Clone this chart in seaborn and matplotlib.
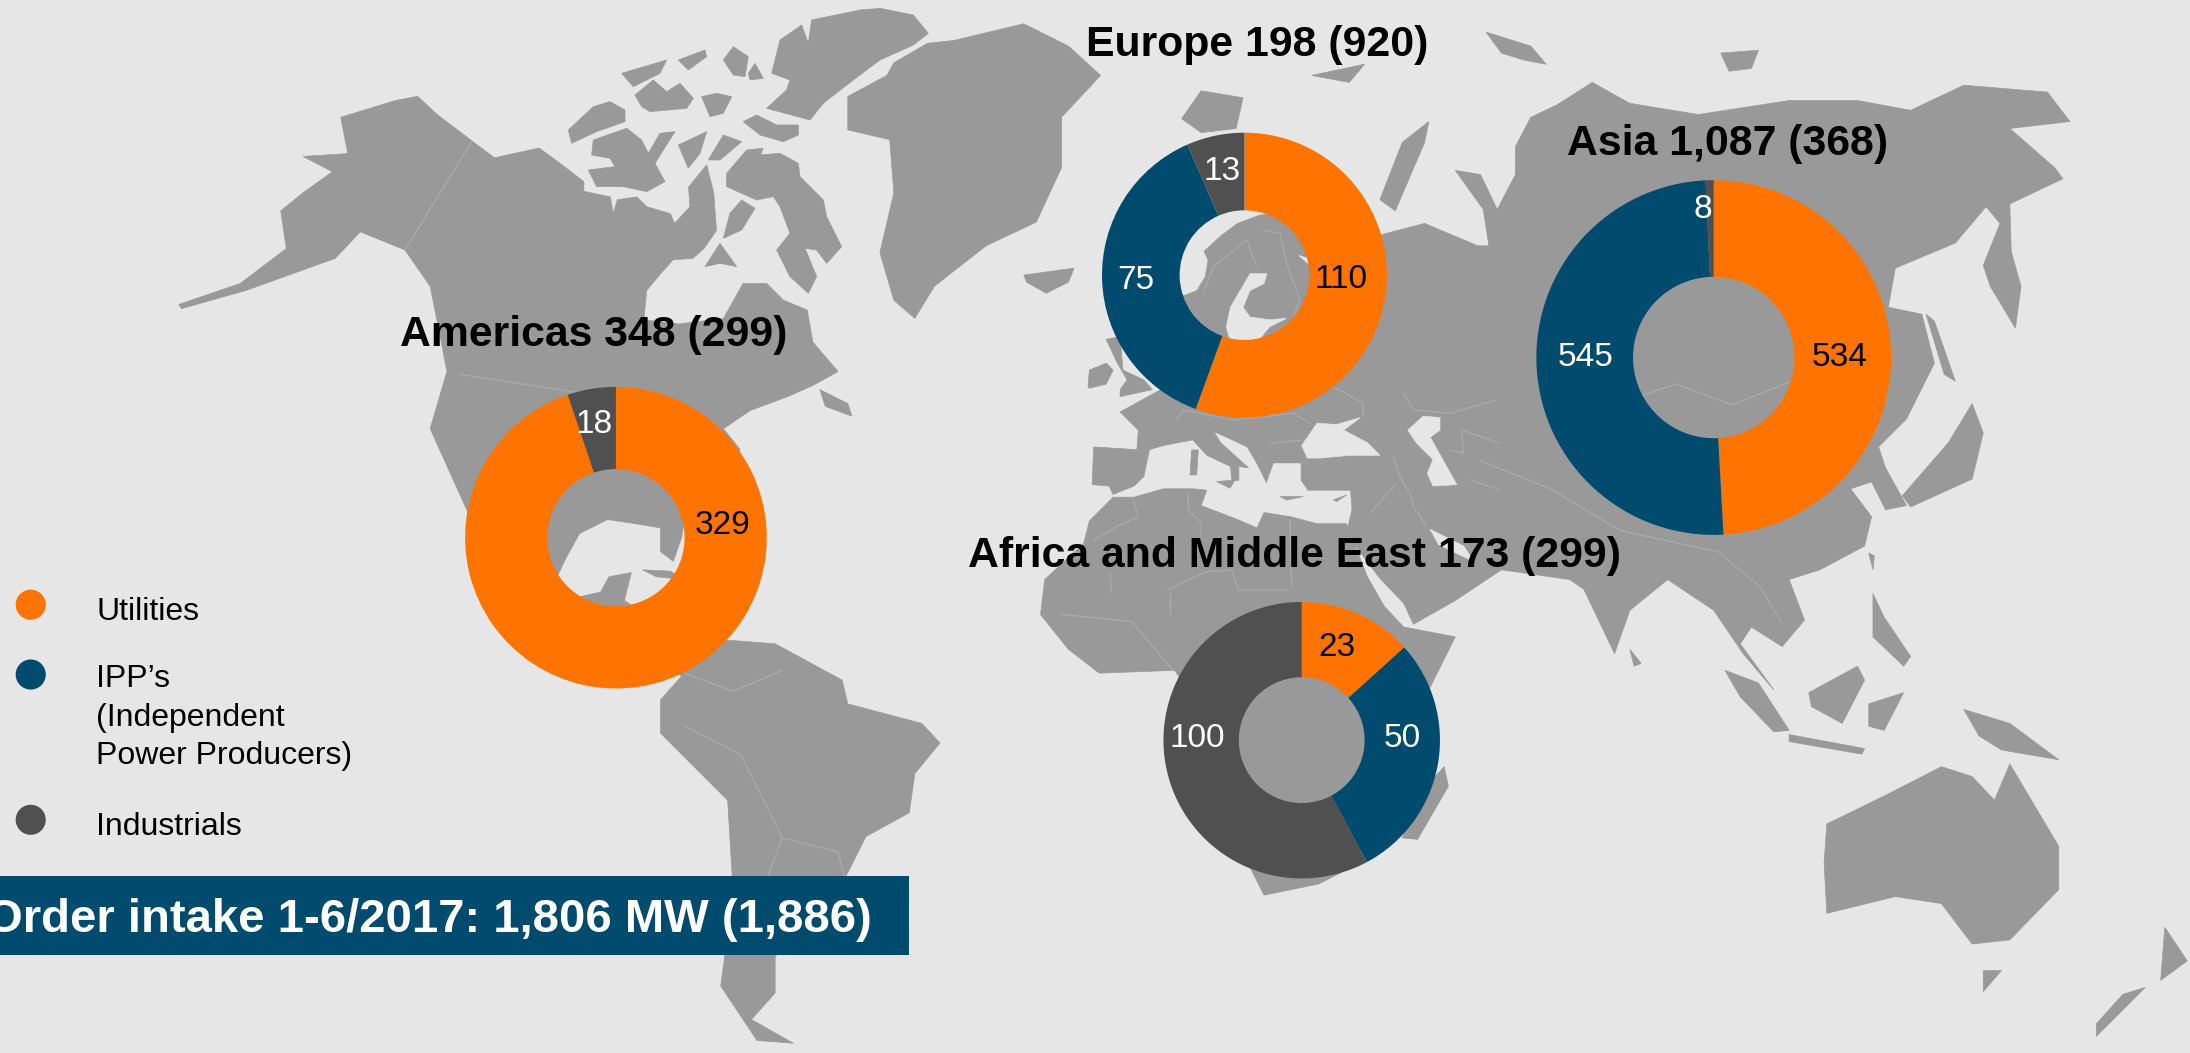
import matplotlib
matplotlib.use("Agg")
import matplotlib.pyplot as plt
from matplotlib.patches import Polygon, Rectangle
import seaborn as sns

# Order intake per region (MW)
segments = ["Utilities", "IPP's", "Industrials"]
americas = [329, 0, 18]
europe = [110, 75, 13]
asia = [534, 545, 8]
africa = [23, 50, 100]

titles = ["Americas 348 (299)", "Europe 198 (920)", "Asia 1,087 (368)", "Africa and Middle East 173 (299)"]
banner_text = "Order intake 1-6/2017: 1,806 MW (1,886)"

ORANGE = "#FF7300"
BLUE = "#004B6E"
DARK = "#505050"
LAND = "#999999"
BG = "#E6E6E6"
BORDER = "#ABABAB"
palette = [ORANGE, BLUE, DARK]


# outlines traced on 3x crops of the map, back to picture coordinates
def crop(x0, y0, pts):
    return [((x0 + x / 3) / 1.3967, (y0 + y / 3) / 1.3967) for x, y in pts]


def arctic(pts):
    return crop(560, 0, pts)


def med(pts):
    return crop(1050, 380, pts)


# Background map outlines, in picture coordinates
land = [
    # north america
    [(244,84),(283,72),(299,69),(313,82),(338,101),(354,113),(386,106),(401,117),(418,130),(418,137),(437,141),(439,153),(442,143),
     (456,141),(463,148),(480,153),(483,160),(494,148),(493,134),(506,118),(511,138),(513,165),(504,178),(496,185),(482,186),
     (473,196),(463,208),(461,229),(486,232),(518,228),(532,203),(549,203),(561,215),(578,222),(582,245),
     (600,266),(582,276),(564,284),(537,294),(518,307),(530,322),(505,345),(491,366),(488,385),(482,402),(473,395),(473,378),
     (455,375),(435,372),(415,382),(405,400),(398,415),(412,428),(430,424),(436,413),(452,410),(447,430),(470,445),(500,465),
     (516,458),(500,490),(440,460),(390,430),(350,400),
     (331,358),(308,307),(320,266),(313,230),(308,205),(290,179),(258,166),(240,185),(190,203),(176,208),(130,221),(128,218),
     (172,203),(205,178),(201,151),(217,138),(238,123),(217,112),(249,110)],
    # south america
    [(516,458),(555,461),(603,487),(607,504),(660,518),(673,532),(655,554),(651,582),(620,599),(607,625),(590,650),(555,685),
     (555,711),(538,730),(568,747),(542,745),(516,706),(525,640),(521,573),(473,525),(473,501),(490,482)],
    # canadian arctic
    arctic([(25,390),(100,320),(150,305),(195,330),(195,365),(110,395),(35,430)]),
    arctic([(100,420),(200,385),(245,420),(265,460),(300,400),(345,395),(310,450),(285,490),(315,545),(260,575),(190,560),
            (110,560),(85,510),(165,500),(150,475),(95,465)]),
    arctic([(185,220),(320,180),(300,220),(220,260)]),
    arctic([(225,285),(280,240),(320,275),(360,250),(400,295),(380,325),(270,335),(245,320)]),
    arctic([(355,180),(435,150),(440,170),(385,210)]),
    arctic([(490,180),(520,140),(565,170),(555,230),(520,225)]),
    arctic([(565,220),(585,190),(610,235),(570,240)]),
    arctic([(425,290),(470,280),(515,290),(490,340),(450,350)]),
    arctic([(550,365),(590,345),(650,375),(715,375),(715,405),(670,425),(600,405)]),
    arctic([(635,220),(660,120),(725,75),(745,130),(755,60),(900,30),(960,25),(1060,45),(1105,100),(1060,135),(960,180),
            (880,240),(790,310),(750,360),(620,325),(680,270),(690,240)]),
    arctic([(355,435),(440,395),(420,460),(385,505)]),
    arctic([(445,480),(490,405),(545,425),(480,480)]),
    arctic([(500,520),(560,450),(610,445),(570,530),(600,465),(660,460),(715,490),(720,530),(790,600),(800,650),(845,740),
            (800,790),(770,750),(735,745),(770,830),(745,880),(690,830),(650,750),(690,700),(660,620),(640,590),(590,600),(500,560)]),
    arctic([(435,800),(480,730),(530,800),(480,790)]),
    arctic([(510,640),(545,600),(585,625),(545,690),(490,715)]),
    [(587,279),(607,289),(610,298),(591,291)],
    # greenland, iceland
    [(607,69),(635,54),(640,45),(664,31),(683,29),(733,17),(765,33),(788,54),(760,84),(760,120),(742,159),(706,176),(669,205),
     (655,228),(640,215),(630,181),(640,138),(637,100),(607,93)],
    [(733,197),(769,192),(765,202),(749,210),(735,202)],
    # eurasia
    [(831,279),(847,212),(857,208),(863,198),(865,186),(862,180),(874,169),(886,160),(902,154),(917,153),(926,162),(965,175),
     (993,167),(1020,160),(1058,176),(1066,176),(1062,150),(1042,122),(1060,125),(1072,150),(1085,125),(1085,105),(1096,84),
     (1115,75),(1140,59),(1167,74),(1216,82),(1281,72),(1330,72),(1368,79),(1406,61),(1466,66),(1482,87),(1439,92),(1471,120),
     (1477,128),(1439,146),(1440,180),(1447,205),(1443,235),(1425,205),(1420,190),(1432,160),(1422,148),(1400,174),(1357,192),
     (1352,220),(1376,225),(1385,260),(1365,300),(1345,320),(1350,335),(1365,362),(1350,365),(1340,345),(1325,350),(1340,370),
     (1335,391),(1303,408),(1281,415),(1292,444),(1276,463),(1254,449),(1246,461),(1270,494),(1248,468),(1227,437),(1194,415),
     (1167,437),(1156,468),(1134,422),(1124,415),(1075,408),(1042,430),(1012,447),(1005,432),(987,413),(964,382),(968,365),
     (967,351),(936,351),(928,346),(907,346),(900,332),(893,320),(878,313),(869,309),(874,317),(885,327),(894,335),(887,334),
     (887,344),(882,344),(881,334),(864,326),(854,315),(833,319),(823,322),(819,341),(812,348),(797,354),(794,348),(782,347),
     (783,320),(814,322),(815,308),(802,295)],
    # africa, madagascar
    [(797,356),(812,356),(833,350),(854,350),(864,351),(860,362),(886,372),(900,378),(905,367),(924,370),(943,375),(964,375),
     (979,413),(991,434),(1005,449),(1042,456),(1025,490),(1005,530),(1000,570),(985,590),(960,625),(944,633),(905,641),(895,621),
     (880,580),(860,530),(855,500),(841,480),(787,482),(765,465),(745,440),(748,415),(776,389),(780,373)],
    [(1034,549),(1037,563),(1015,601),(1004,600),(1015,570)],
    # australia, tasmania, new zealand
    [(1308,590),(1349,570),(1390,549),(1412,556),(1428,573),(1439,547),(1474,606),(1474,637),(1439,673),(1412,676),(1390,647),
     (1357,642),(1308,654),(1306,618)],
    [(1420,695),(1433,695),(1420,710)],
    [(1550,664),(1566,688),(1547,702)],
    [(1536,707),(1501,742),(1501,733),(1520,712)],
    # south east asia
    [(1406,508),(1439,518),(1474,544),(1433,537),(1417,527)],
    [(1295,496),(1330,477),(1335,487),(1319,518),(1297,506)],
    [(1235,480),(1259,489),(1281,523),(1270,524),(1246,499)],
    [(1281,526),(1335,536),(1333,540),(1281,531)],
    [(1338,504),(1363,496),(1349,523),(1338,520)],
    [(1341,425),(1349,442),(1368,470),(1363,477),(1341,456)],
    [(1338,396),(1342,398),(1341,408)],
    [(1167,465),(1175,475),(1170,477)],
    # british isles, arctic russia, japan, sakhalin, cuba
    [(779,277),(780,265),(792,260),(797,265),(792,275),(780,278)],
    [(792,243),(802,241),(804,265),(819,272),(825,279),(802,284),(802,279),(807,272),(800,260)],
    [(846,85),(860,65),(890,70),(885,92),(860,95)],
    [(1064,23),(1096,33),(1107,46),(1091,43),(1075,38)],
    [(1232,38),(1259,36),(1254,49),(1238,51)],
    [(939,54),(977,46),(966,59)],
    [(988,143),(1004,102),(1023,87),(1020,102),(999,151)],
    [(1412,289),(1420,310),(1412,343),(1368,363),(1362,355),(1395,317)],
    [(1379,225),(1385,230),(1400,273),(1392,268)],
    [(460,408),(480,409),(490,415),(470,413)],
    # mediterranean islands
    med([(425,210),(445,210),(440,285),(420,285)]),
    med([(500,305),(555,300),(540,325)]),
    med([(850,360),(890,345),(860,365)]),
    med([(690,350),(760,350),(710,360)]),
]
seas = [
    # black sea, caspian, aegean
    [(932,319),(943,303),(957,304),(974,299),(962,308),(979,317),(988,326),(967,326),(945,328),(936,328)],
    [(1008,308),(1019,298),(1031,299),(1031,308),(1024,313),(1043,347),(1026,348),(1022,339),(1026,329),(1014,317)],
    [(912,332),(931,332),(931,344),(936,351),(917,351),(907,346)],
    # baltic, white sea, persian gulf
    [(895,196),(907,196),(905,203),(895,208),(890,220),(895,227),(909,229),(921,228),(909,234),(900,245),(881,245),(878,234),
     (881,220),(888,208)],
    [(930,183),(940,186),(945,195),(938,190)],
    [(1024,379),(1048,391),(1055,402),(1030,390)],
]
borders = [
    [(338,101),(290,179)],
    [(329,268),(420,282)],
    [(490,482),(525,495),(560,480)],
    [(490,520),(530,540),(560,600),(545,640)],
    [(560,600),(600,610),(605,630)],
    [(1170,285),(1200,275),(1240,290),(1290,270)],
    [(1230,395),(1260,420),(1275,445)],
    [(1060,330),(1110,350),(1160,380),(1230,395)],
    [(760,440),(810,445),(840,480)],
    med([(415,340),(415,390),(455,430),(450,470)]),
    med([(250,360),(265,410),(200,440),(130,480)]),
    med([(720,420),(725,620)]),
    med([(180,580),(185,640)]),
    med([(350,630),(470,575),(545,570),(565,630),(715,630)]),
    med([(360,640),(360,700)]),
    med([(1030,230),(1050,290),(1080,340),(1090,380),(1130,440)]),
    med([(1040,310),(960,400)]),
    med([(1200,210),(1240,220),(1235,150),(1350,190)]),
    med([(1260,300),(1350,330)]),
    med([(380,120),(400,90),(550,120),(640,110),(730,100),(780,130)]),
    med([(850,20),(940,70),(940,110)]),
    med([(660,190),(760,180)]),
    med([(1060,40),(1090,90),(1200,100),(1340,60)]),
    crop(1080, 120, [(370,520),(400,440),(500,360),(530,440)]),
    crop(1080, 120, [(550,330),(600,340),(620,430),(660,540),(640,590)]),
]

# label placement, in picture coordinates
centers = [(441, 385), (891, 197), (1227, 256), (932, 530)]
radii = [108, 102, 127, 99]
title_pos = [(425, 240), (900, 32), (1237, 103), (927, 398)]
label_pos = [
    [(517, 376), None, (425, 304)],
    [(960, 200), (813, 201), (875, 123)],
    [(1317, 256), (1135, 256), (1219, 150)],
    [(957, 464), (1004, 529), (857, 529)],
]

sns.set_theme(style="white")
plt.rcParams["font.family"] = ["Liberation Sans", "DejaVu Sans"]

W, H = 1568, 754
fig = plt.figure(figsize=(21.9, 10.53), dpi=100, facecolor=BG)
ax = fig.add_axes([0, 0, 1, 1])
ax.set_facecolor(BG)

for pts in land:
    ax.add_patch(Polygon(pts, closed=True, fc=LAND, ec=LAND, lw=0.5, zorder=1))
for pts in seas:
    ax.add_patch(Polygon(pts, closed=True, fc=BG, ec=BG, lw=0.5, zorder=2))
for pts in borders:
    ax.plot([p[0] for p in pts], [p[1] for p in pts], color=BORDER, lw=0.9, zorder=2)

# legend
sns.scatterplot(x=[22, 22, 22], y=[433, 483, 587], hue=segments, palette=palette, s=470,
                linewidth=0, legend=False, ax=ax, zorder=5)
for y, line in zip([438, 486, 514, 541, 592],
                   ["Utilities", "IPP’s", "(Independent", "Power Producers)", "Industrials"]):
    ax.text(69, y, line, fontsize=23, color="black", va="center", zorder=5)

# banner
ax.add_patch(Rectangle((0, 627), 651, 57, fc=BLUE, ec="none", zorder=4))
ax.text(624, 659, banner_text, fontsize=34, fontweight="bold", color="white", ha="right", va="center", zorder=5)

ax.set_xlim(0, W)
ax.set_ylim(H, 0)
ax.axis("off")

# donuts
regions = [americas, europe, asia, africa]
for vals, (cx, cy), r, tp, lp, title in zip(regions, centers, radii, title_pos, label_pos, titles):
    pie_ax = fig.add_axes([(cx - r) / W, 1 - (cy + r) / H, 2 * r / W, 2 * r / H])
    pie_ax.pie(vals, colors=palette, startangle=90, counterclock=False, radius=1,
               wedgeprops={"width": 0.545, "linewidth": 0})
    pie_ax.set_xlim(-1, 1)
    pie_ax.set_ylim(-1, 1)
    pie_ax.patch.set_alpha(0)
    ax.text(tp[0], tp[1], title, fontsize=30.8, fontweight="bold", color="black", ha="center", va="center", zorder=6)
    for i, pos in enumerate(lp):
        if pos is None:
            continue
        col = "black" if i == 0 else "white"
        pie_ax.text((pos[0] - cx) / r, (cy - pos[1]) / r, str(vals[i]), fontsize=24, color=col,
                    ha="center", va="center", zorder=6)

fig.savefig("out.png", dpi=100, facecolor=BG)
